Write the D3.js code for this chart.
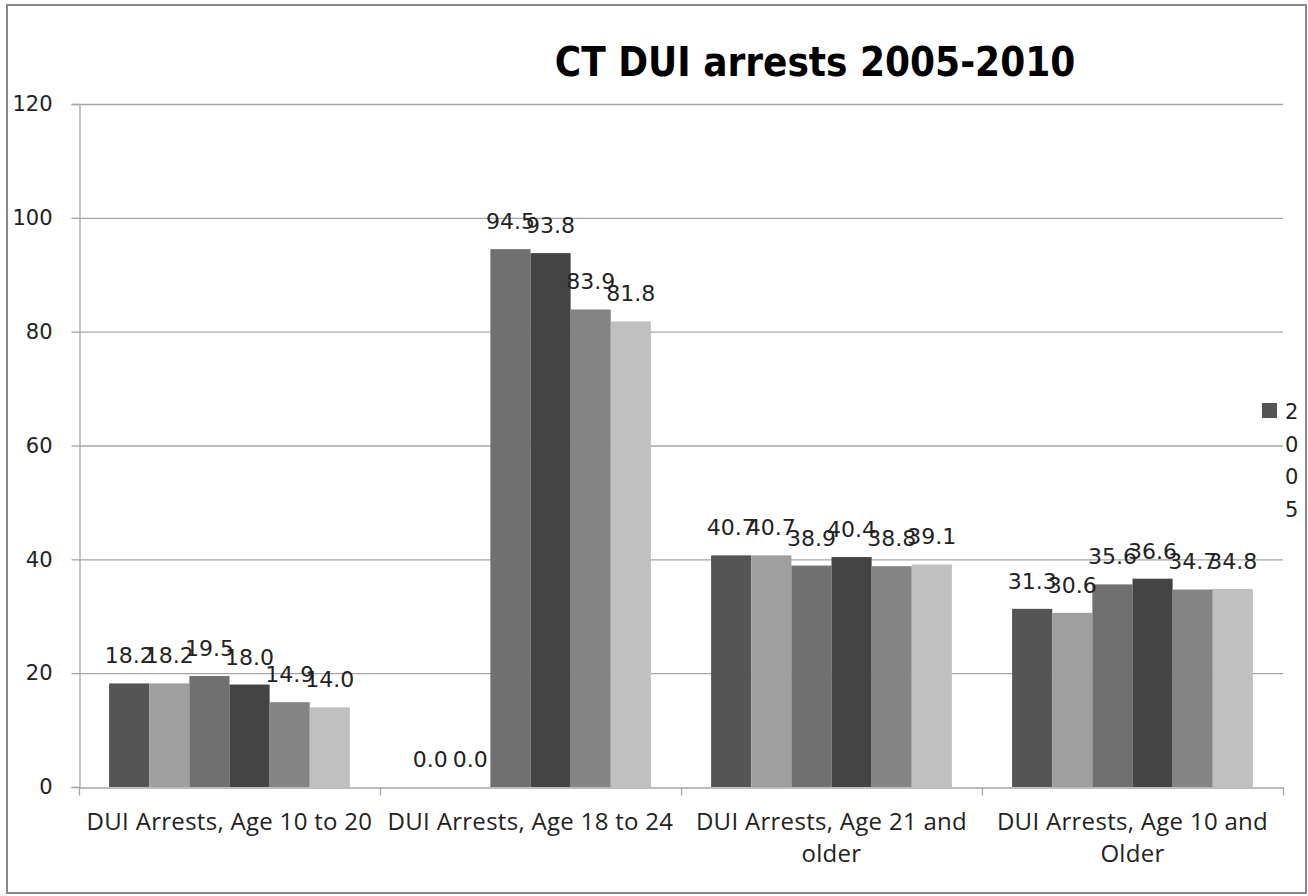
<!DOCTYPE html>
<html><head><meta charset="utf-8">
<script src="https://cdn.jsdelivr.net/npm/d3@7"></script>
<style>
html,body{margin:0;padding:0;background:#fff;}
svg{display:block;}
</style></head>
<body>
<svg id="chart" width="1308" height="896"></svg>
<script>
const categories = [
  ["DUI Arrests, Age 10 to 20"],
  ["DUI Arrests, Age 18 to 24"],
  ["DUI Arrests, Age 21 and", "older"],
  ["DUI Arrests, Age 10 and", "Older"]
];
const seriesNames = ["2005", "2006", "2007", "2008", "2009", "2010"];
const v2005 = [18.2, 0.0, 40.7, 31.3];
const v2006 = [18.2, 0.0, 40.7, 30.6];
const v2007 = [19.5, 94.5, 38.9, 35.6];
const v2008 = [18.0, 93.8, 40.4, 36.6];
const v2009 = [14.9, 83.9, 38.8, 34.7];
const v2010 = [14.0, 81.8, 39.1, 34.8];
const seriesValues = [v2005, v2006, v2007, v2008, v2009, v2010];
const seriesColors = ["#555555", "#9f9f9f", "#707070", "#444444", "#848484", "#c0c0c0"];
const yTicks = [0, 20, 40, 60, 80, 100, 120];
const title = "CT DUI arrests 2005-2010";

const numFont = "'DejaVu Sans', sans-serif";
const svg = d3.select("#chart");
const plot = {left: 79, right: 1283, top: 104, bottom: 787};

// outer border
svg.append("rect").attr("x", 7).attr("y", 5).attr("width", 1299).attr("height", 888)
  .attr("fill", "#fff").attr("stroke", "#888").attr("stroke-width", 2);

const catKeys = categories.map((c, i) => i);
const x0 = d3.scaleBand().domain(catKeys).range([plot.left, plot.right]).paddingInner(0).paddingOuter(0);
const x1 = d3.scaleBand().domain(seriesNames).range([0, x0.bandwidth()]).paddingInner(0).paddingOuter(0.75);
const y = d3.scaleLinear().domain([0, 120]).range([plot.bottom, plot.top]);

// gridlines
svg.append("g").selectAll("line").data(yTicks.filter(d => d > 0)).join("line")
  .attr("x1", plot.left).attr("x2", plot.right)
  .attr("y1", d => y(d) + 0.5).attr("y2", d => y(d) + 0.5)
  .attr("stroke", "#a6a6a6").attr("stroke-width", 1.3);

// y axis
const yAxis = d3.axisLeft(y).tickValues(yTicks).tickSize(8).tickPadding(19).tickFormat(d3.format("d"));
const gy = svg.append("g").attr("transform", `translate(${plot.left + 0.5},0)`).call(yAxis);
gy.select(".domain").attr("stroke", "#a6a6a6").attr("stroke-width", 1.3);
gy.selectAll(".tick line").attr("stroke", "#a6a6a6").attr("stroke-width", 1.3);
gy.selectAll(".tick text").attr("font-family", numFont).attr("font-size", 21).attr("fill", "#222");

// bars
const groups = svg.append("g").selectAll("g").data(catKeys).join("g")
  .attr("transform", d => `translate(${x0(d)},0)`);
groups.selectAll("rect").data(ci => seriesNames.map((s, si) => ({s, si, v: seriesValues[si][ci]}))).join("rect")
  .attr("x", d => x1(d.s)).attr("width", x1.bandwidth())
  .attr("y", d => y(d.v)).attr("height", d => y(0) - y(d.v))
  .attr("fill", d => seriesColors[d.si]);

// data labels
groups.selectAll("text").data(ci => seriesNames.map((s, si) => ({s, si, v: seriesValues[si][ci]}))).join("text")
  .attr("x", d => x1(d.s) + x1.bandwidth() / 2)
  .attr("y", d => y(d.v) - 20)
  .attr("text-anchor", "middle")
  .attr("font-family", numFont).attr("font-size", 22).attr("fill", "#222")
  .text(d => d.v.toFixed(1));

// x axis
const xAxis = d3.axisBottom(x0).tickSize(0).tickFormat("");
const gx = svg.append("g").attr("transform", `translate(0,${plot.bottom + 0.5})`).call(xAxis);
gx.select(".domain").attr("stroke", "#a6a6a6").attr("stroke-width", 1.3);
gx.selectAll(".tick").remove();
const bounds = catKeys.map(d => x0(d)).concat([plot.right]);
gx.selectAll(".ctick").data(bounds).join("line").attr("class", "ctick")
  .attr("x1", d => d + 0.5).attr("x2", d => d + 0.5).attr("y1", 0).attr("y2", 8)
  .attr("stroke", "#a6a6a6").attr("stroke-width", 1.3);

// category labels
const catLabels = svg.append("g").selectAll("text").data(catKeys).join("text")
  .attr("x", d => x0(d) + x0.bandwidth() / 2)
  .attr("y", 830)
  .attr("text-anchor", "middle")
  .attr("font-family", "'Open Sans', sans-serif")
  .attr("font-size", 24).attr("letter-spacing", 0.3).attr("fill", "#222");
catLabels.selectAll("tspan").data(d => categories[d]).join("tspan")
  .attr("x", function() { return d3.select(this.parentNode).attr("x"); })
  .attr("dy", (d, i) => i === 0 ? 0 : 32)
  .text(d => d);

// title
svg.append("text").attr("x", 815).attr("y", 76).attr("text-anchor", "middle")
  .attr("font-family", "'DejaVu Sans Condensed', 'DejaVu Sans', sans-serif")
  .attr("font-weight", "bold").attr("font-size", 40).attr("fill", "#000")
  .text(title);

// truncated legend (only first entry visible, wrapped)
const legend = svg.append("g");
legend.append("rect").attr("x", 1262).attr("y", 403).attr("width", 15).attr("height", 15).attr("fill", seriesColors[0]);
const lt = legend.append("text").attr("x", 1285).attr("y", 419)
  .attr("font-family", numFont).attr("font-size", 21).attr("fill", "#222");
lt.selectAll("tspan").data(seriesNames[0].split("")).join("tspan")
  .attr("x", 1285).attr("dy", (d, i) => i === 0 ? 0 : 32.5).text(d => d);
</script>
</body></html>
